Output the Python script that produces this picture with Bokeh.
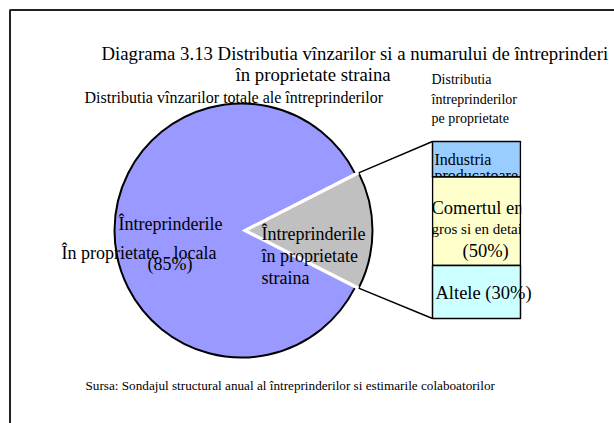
import math
from bokeh.plotting import figure
from bokeh.models import Range1d
from bokeh.core.properties import value
from bokeh.embed import file_html
from bokeh.resources import INLINE

# ---------------- data ----------------
pie_labels = ["Întreprinderile în proprietate locala", "Întreprinderile în proprietate straina"]
pie_values = [85, 15]
pie_colors = ["#9999FF", "#C0C0C0"]

bar_labels = ["Industria producatoare", "Comertul en gros si en detail", "Altele"]
bar_values = [20, 50, 30]
bar_colors = ["#99CCFF", "#FFFFCC", "#CCFFFF"]

title_lines = ["Diagrama 3.13 Distributia vînzarilor si a numarului de întreprinderi",
               "în proprietate straina"]
pie_title = "Distributia vînzarilor totale ale întreprinderilor"
bar_title_lines = ["Distributia", "întreprinderilor", "pe proprietate"]
source_text = "Sursa: Sondajul structural anual al întreprinderilor si estimarile colaboatorilor"

local_label_lines = ["Întreprinderile", "În proprietate", "locala", "(85%)"]
foreign_label_lines = ["Întreprinderile", "în proprietate", "straina"]
industry_label_lines = ["Industria", "producatoare"]
trade_label_lines = ["Comertul en", "gros si en detail", "(50%)"]
other_label_lines = ["Altele (30%)"]

# ---------------- figure ----------------
W, H = 614, 423
FONT = value("Liberation Serif")
p = figure(width=W, height=H, output_backend="svg", toolbar_location=None,
           x_range=Range1d(0, W), y_range=Range1d(H, 0),
           x_axis_location=None, y_axis_location=None, min_border=0)
p.grid.visible = False
p.outline_line_color = None
p.background_fill_color = "white"
p.border_fill_color = "white"

# frame
p.line(x=[9.5, 9.5, 620], y=[430, 9.5, 9.5], line_color="#222222", line_width=2)

def txt(x, y, s, size, align="left", color="black"):
    p.text(x=[x], y=[y], text=[s], text_font=FONT, text_font_size=value(size),
           text_align=align, text_baseline="alphabetic", text_color=color)

# titles
txt(101, 53, title_lines[0], "18.75px")
txt(235, 74, title_lines[1], "18.75px")
txt(84, 97, pie_title, "16px")
for i, s in enumerate(bar_title_lines):
    txt(431, 79 + i * 19.5, s, "14px")
txt(85, 385, source_text, "13.2px")

# ---------------- pie ----------------
cx, cy, r = 241, 230, 127
explode = 4
total = sum(pie_values)
half = pie_values[1] / total * math.pi  # half-angle of the foreign-owned slice

p.wedge(x=cx, y=cy, radius=r, start_angle=half, end_angle=2 * math.pi - half,
        fill_color=pie_colors[0], line_color=None)
p.wedge(x=cx + explode, y=cy, radius=r, start_angle=-half, end_angle=half,
        fill_color=pie_colors[1], line_color=None)
p.arc(x=cx, y=cy, radius=r, start_angle=half, end_angle=2 * math.pi - half,
      line_color="black", line_width=2)
p.arc(x=cx + explode, y=cy, radius=r, start_angle=-half, end_angle=half,
      line_color="black", line_width=2)

ex = cx + explode + r * math.cos(half)
ey_top = cy - r * math.sin(half)
ey_bot = cy + r * math.sin(half)
p.segment(x0=[cx + explode, cx + explode], y0=[cy, cy], x1=[ex, ex], y1=[ey_top, ey_bot],
          line_color="white", line_width=3)

# ---------------- stacked bar ----------------
bx0, bx1, btop, bheight = 432, 520, 141, 177
btotal = sum(bar_values)
tops = []
acc = btop
for v in bar_values:
    tops.append(acc)
    acc += v / btotal * bheight
bottoms = tops[1:] + [btop + bheight]

# connector lines
p.segment(x0=[ex, ex], y0=[ey_top, ey_bot], x1=[bx0, bx0], y1=[btop, btop + bheight],
          line_color="black", line_width=1.5)

label_sets = [industry_label_lines, trade_label_lines, other_label_lines]
for i in range(len(bar_values)):
    p.quad(left=[bx0], right=[bx1], top=[tops[i]], bottom=[bottoms[i]],
           fill_color=bar_colors[i], line_color="black", line_width=1.5)
    if i == 0:
        txt(434, tops[i] + 18, label_sets[i][0], "16px")
        txt(434, bottoms[i] - 1, label_sets[i][1], "16px")
    elif i == 1:
        txt(431, tops[i] + 31, label_sets[i][0], "18.5px")
        txt(431, tops[i] + 52, label_sets[i][1], "15px")
        txt(462, tops[i] + 74, label_sets[i][2], "18.5px")
    else:
        txt(435, tops[i] + 28, label_sets[i][0], "18.5px")

# text of the upper two segments is clipped at the bar's edges
p.quad(left=[bx1 + 0.8], right=[bx1 + 40], top=[tops[0] + 1], bottom=[bottoms[1]],
       fill_color="white", line_color=None)
p.quad(left=[bx0 - 20], right=[bx0 - 0.8], top=[tops[1] + 1], bottom=[bottoms[1]],
       fill_color="white", line_color=None)

# pie labels
txt(118, 223, local_label_lines[0], "18px")
txt(61, 252, local_label_lines[1], "18px")
txt(173, 252, local_label_lines[2], "18px")
txt(147, 263, local_label_lines[3], "18px")
for j, s in enumerate(foreign_label_lines):
    txt(261, 233 + j * 22, s, "18px")

open("out.html", "w").write(file_html(p, INLINE))
